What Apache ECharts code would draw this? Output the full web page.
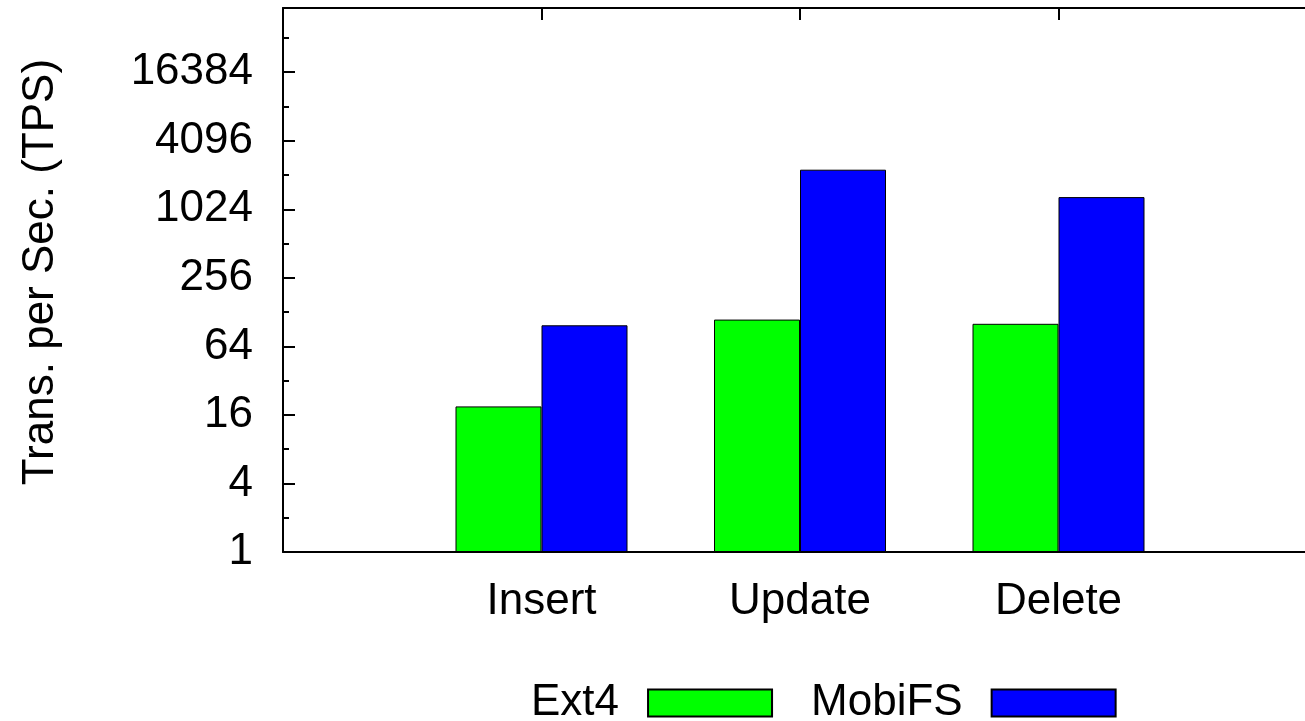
<!DOCTYPE html>
<html>
<head>
<meta charset="utf-8">
<script src="https://cdn.jsdelivr.net/npm/echarts@6/dist/echarts.min.js"></script>
<style>
  html, body { margin: 0; padding: 0; background: #ffffff; }
  #chart { width: 1305px; height: 721px; }
</style>
</head>
<body>
<div id="chart"></div>
<script>
// Transactions per second for each SQLite operation (log2 scale)
const categories = ['Insert', 'Update', 'Delete'];
const ext4Tps = [19, 110, 101];
const mobifsTps = [98, 2280, 1310];
const seriesNames = ['Ext4', 'MobiFS'];
const majorTicks = [1, 4, 16, 64, 256, 1024, 4096, 16384];
const minorTicks = [2, 8, 32, 128, 512, 2048, 8192, 32768];
const yMin = 1;
const yMax = 60000;

const FONT = "'Liberation Sans', Arial, Helvetica, sans-serif";

// an empty slot on each side keeps the groups away from the frame
const xSlots = [''].concat(categories, ['']);
const pad = arr => [null].concat(arr, [null]);

const chart = echarts.init(document.getElementById('chart'), null, { renderer: 'canvas' });

const logAxisBase = {
  type: 'log',
  logBase: 2,
  min: yMin,
  max: yMax,
  splitLine: { show: false },
  minorTick: { show: false },
  minorSplitLine: { show: false }
};

chart.setOption({
  animation: false,
  backgroundColor: '#ffffff',
  textStyle: { fontFamily: FONT },
  grid: {
    left: 283,
    right: -12,
    top: 8,
    bottom: 169,
    containLabel: false,
    outerBoundsMode: 'none'
  },
  legend: {
    data: seriesNames,
    left: 526,
    top: 676,
    align: 'right',
    itemWidth: 124,
    itemHeight: 27,
    itemGap: 38,
    icon: 'rect',
    selectedMode: false,
    textStyle: {
      fontFamily: FONT,
      fontSize: 44,
      color: '#000000',
      padding: [0, 24, 0, 0]
    }
  },
  xAxis: [
    {
      type: 'category',
      data: xSlots,
      boundaryGap: false,
      position: 'bottom',
      axisLine: { show: true, lineStyle: { color: '#000000', width: 2 } },
      axisTick: { show: false },
      axisLabel: {
        interval: 0,
        fontFamily: FONT,
        fontSize: 44,
        color: '#000000',
        margin: 28
      },
      splitLine: { show: false }
    },
    {
      type: 'category',
      data: xSlots,
      boundaryGap: false,
      position: 'top',
      axisLine: { show: true, lineStyle: { color: '#000000', width: 2 } },
      axisTick: { show: true, inside: true, length: 12, interval: 0, lineStyle: { color: '#000000', width: 2 } },
      axisLabel: { show: false },
      splitLine: { show: false }
    }
  ],
  yAxis: [
    Object.assign({}, logAxisBase, {
      position: 'left',
      name: 'Trans. per Sec. (TPS)',
      nameLocation: 'middle',
      nameRotate: 90,
      nameGap: 220,
      nameTextStyle: { fontFamily: FONT, fontSize: 44, color: '#000000', padding: [0, 0, 0, 16] },
      axisLine: { show: true, lineStyle: { color: '#000000', width: 2 } },
      axisTick: {
        show: true, inside: true, length: 12,
        customValues: majorTicks,
        lineStyle: { color: '#000000', width: 2 }
      },
      axisLabel: {
        customValues: majorTicks,
        fontFamily: FONT,
        fontSize: 44,
        color: '#000000',
        margin: 30,
        formatter: v => String(Math.round(v))
      }
    }),
    Object.assign({}, logAxisBase, {
      position: 'left',
      axisLine: { show: false },
      axisTick: {
        show: true, inside: true, length: 6,
        customValues: minorTicks,
        lineStyle: { color: '#000000', width: 2 }
      },
      axisLabel: { show: false }
    }),
    Object.assign({}, logAxisBase, {
      position: 'right',
      axisLine: { show: false },
      axisTick: {
        show: true, inside: true, length: 12,
        customValues: majorTicks,
        lineStyle: { color: '#000000', width: 2 }
      },
      axisLabel: { show: false }
    })
  ],
  series: [
    {
      name: seriesNames[0],
      type: 'bar',
      xAxisIndex: 0,
      yAxisIndex: 0,
      data: pad(ext4Tps),
      barWidth: 86,
      barGap: '0%',
      itemStyle: { color: '#00ff00', borderColor: '#000000', borderWidth: 1 }
    },
    {
      name: seriesNames[1],
      type: 'bar',
      xAxisIndex: 0,
      yAxisIndex: 0,
      data: pad(mobifsTps),
      barWidth: 86,
      barGap: '0%',
      itemStyle: { color: '#0000ff', borderColor: '#000000', borderWidth: 1 }
    }
  ]
});
</script>
</body>
</html>
